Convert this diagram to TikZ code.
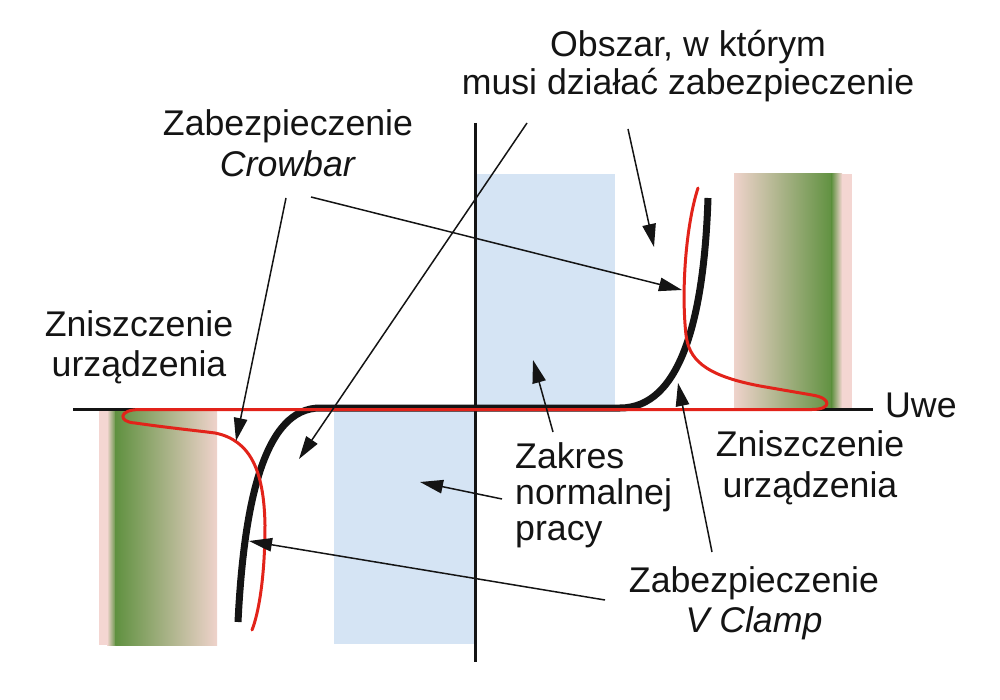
\documentclass[tikz,border=0pt]{standalone}
\usepackage{fontspec}
\setmainfont{Liberation Sans}
\usetikzlibrary{arrows.meta}
\definecolor{blueF}{RGB}{213,228,244}
\definecolor{redC}{RGB}{226,35,26}
\definecolor{pinkC}{RGB}{244,214,210}
\definecolor{tanC}{RGB}{192,180,142}
\definecolor{greenC}{RGB}{96,145,64}
\definecolor{inkC}{RGB}{20,20,20}
\tikzset{
  lbl/.style={inner sep=0pt, font=\fontsize{35.7}{39.5}\selectfont, text=inkC},
  pointer/.style={line width=1.5pt, draw=inkC, -{Triangle[length=23pt,width=13.5pt]}},
  axisline/.style={line width=3pt, draw=inkC},
  curveK/.style={line width=7pt, draw=inkC},
  curveR/.style={line width=3pt, draw=redC, line cap=round, line join=round},
}
\begin{document}
\begin{tikzpicture}[x=1pt,y=-1pt]
\useasboundingbox (0,0) rectangle (1000,700);
% normal operating range
\fill[blueF] (476,174) rectangle (615,409);
\fill[blueF] (334,409) rectangle (475,644);
% destruction zones (right)
\shade[left color=pinkC!90!tanC, middle color=tanC, right color=greenC] (734,174) rectangle (832,409);
\shade[left color=greenC, right color=pinkC] (831.5,174) rectangle (842,409);
\fill[pinkC] (841.5,174) rectangle (852,409);
% destruction zones (left)
\fill[pinkC] (99,409) rectangle (107.5,645);
\shade[left color=pinkC, right color=greenC] (107,409) rectangle (116,645);
\shade[left color=greenC, middle color=tanC, right color=pinkC!90!tanC] (115.5,409) rectangle (217,645);
% axes
\coordinate (xl) at (73,409);
\coordinate (xr) at (873,409);
\coordinate (yt) at (475,123);
\coordinate (yb) at (475,662);
\draw[axisline] (xl) -- (xr);
\draw[axisline] (yt) -- (yb);
% black characteristic
\draw[curveK] (238,622) .. controls (244,500) and (265,408) .. (320,408) -- (620,408) .. controls (680,408) and (704,320) .. (708,198);
% red characteristic
\draw[curveR] (698,188) .. controls (686,225) and (681,290) .. (686,335)
  .. controls (689,358) and (702,375) .. (760,386) -- (812,395)
  .. controls (832,398) and (832,409.5) .. (812,409.5) -- (140,409.5)
  .. controls (118,409.5) and (118,422) .. (135,423)
  .. controls (170,428) and (200,431) .. (215,433)
  .. controls (250,440) and (264,470) .. (265,525)
  .. controls (265,580) and (258,615) .. (252,630);
% labels (anchor base = baseline of the last line)
\node[lbl, align=center, anchor=base, font=\fontsize{35.7}{38}\selectfont] (obszar) at (688,95) {Obszar, w którym\\musi działać zabezpieczenie};
\node[lbl, align=center, anchor=base, font=\fontsize{35.7}{41}\selectfont] (crowbar) at (288,177) {Zabezpieczenie\\\textit{Crowbar}};
\node[lbl, align=center, anchor=base] (zniszczL) at (139,376) {Zniszczenie\\urządzenia};
\node[lbl, align=center, anchor=base, font=\fontsize{35.7}{41}\selectfont] (zniszczR) at (810,497) {Zniszczenie\\urządzenia};
\node[lbl, anchor=base west] (uwe) at (885,417) {Uwe};
\node[lbl, align=left, anchor=base west, font=\fontsize{35.7}{36}\selectfont] (zakres) at (515,540) {Zakres\\normalnej\\pracy};
\node[lbl, align=center, anchor=base] (vclamp) at (754,632) {Zabezpieczenie\\\textit{V Clamp}};
% arrow end points
\coordinate (oA) at (527,123); \coordinate (oAt) at (299,459);
\coordinate (oB) at (628,129); \coordinate (oBt) at (654,247);
\coordinate (cA) at (286,198); \coordinate (cAt) at (236,441);
\coordinate (cB) at (311,197); \coordinate (cBt) at (682,290);
\coordinate (zA) at (553,432); \coordinate (zAt) at (533,360);
\coordinate (zB) at (502,499); \coordinate (zBt) at (420,482);
\coordinate (vA) at (712,552); \coordinate (vAt) at (678,383);
\coordinate (vB) at (605,600); \coordinate (vBt) at (249,541);
\draw[pointer] (oA) -- (oAt);
\draw[pointer] (oB) -- (oBt);
\draw[pointer] (cA) -- (cAt);
\draw[pointer] (cB) -- (cBt);
\draw[pointer] (zA) -- (zAt);
\draw[pointer] (zB) -- (zBt);
\draw[pointer] (vA) -- (vAt);
\draw[pointer] (vB) -- (vBt);
\end{tikzpicture}
\end{document}
